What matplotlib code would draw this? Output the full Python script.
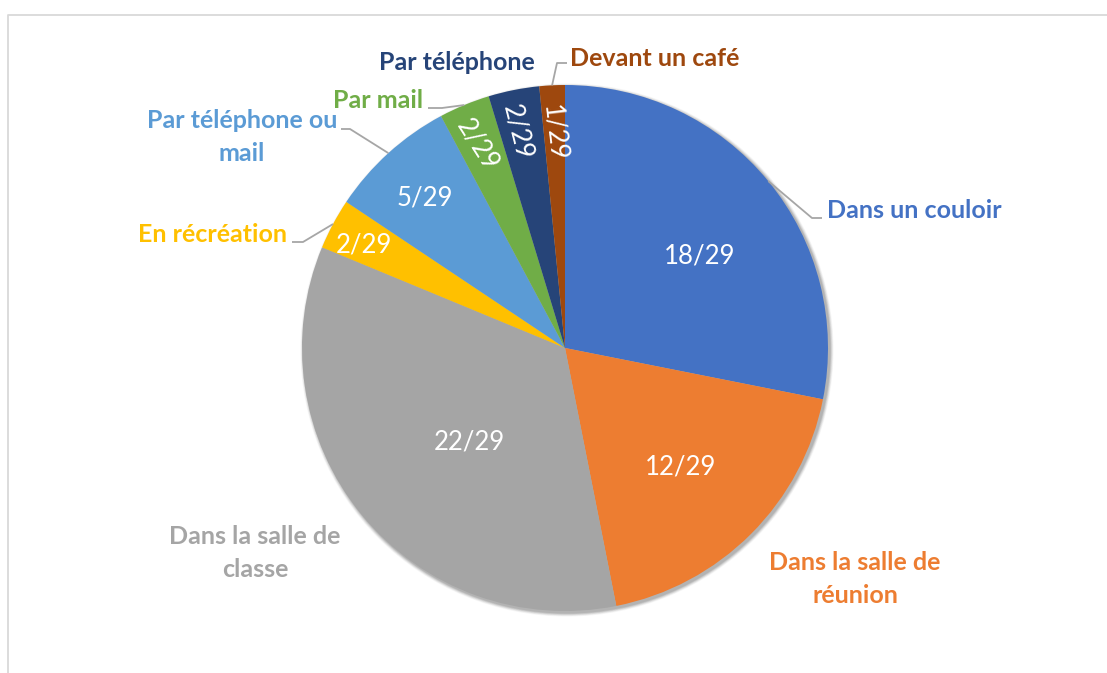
import numpy as np
import matplotlib
matplotlib.use("Agg")
import matplotlib.pyplot as plt
from matplotlib.patches import Circle

# ---- data ----
categories = ["Dans un couloir", "Dans la salle de\nréunion", "Dans la salle de\nclasse",
              "En récréation", "Par téléphone ou\nmail", "Par mail", "Par téléphone",
              "Devant un café"]
values = [18, 12, 22, 2, 5, 2, 2, 1]
value_labels = ["18/29", "12/29", "22/29", "2/29", "5/29", "2/29", "2/29", "1/29"]
colors = ["#4472C4", "#ED7D31", "#A5A5A5", "#FFC000", "#5B9BD5", "#70AD47", "#264478", "#9E480E"]

# ---- layout (pixel space, y measured from top) ----
W, H = 1107, 673
cx, cy, R = 565, 348, 263
inner_dist = [0.62, 0.63, 0.51, 0.86, 0.78, 0.84, 0.84, 0.82]
inner_angle_shift = [-5, -1, 5, 0.9, 0.8, 0.9, 1.3, 0.2]
rot_extra = [0, 0, 0, 0, 0, 10, 3, 4]
rotate_inner = [False, False, False, False, False, True, True, True]
# outer label: (x, y, ha) ; elbow point for leader line (or None)
outer_pos = [(827, 211, "left"), (855, 579, "center"), (255, 553, "center"),
             (287, 235, "right"), (242, 137, "center"), (378, 100, "center"),
             (457, 62, "center"), (655, 58, "center")]
elbows = [((812, 218), (822, 218)), None, None,
          ((303, 242), (292, 242)), ((350, 129), (341, 129)),
          ((442, 108), (428, 108)), None, ((557, 63), (567, 63))]

def py(y):
    return H - y

fig = plt.figure(figsize=(W / 100, H / 100), dpi=100)
ax = fig.add_axes([0, 0, 1, 1])
ax.set_xlim(0, W)
ax.set_ylim(0, H)
ax.set_aspect("equal")
ax.axis("off")

# chart border (partially visible)
ax.plot([7.5, 7.5, W + 5], [-5, py(14.5), py(14.5)], color="#D9D9D9", lw=1.3, zorder=1)

# soft shadow
for k, a in zip(range(6, 0, -1), [0.03, 0.04, 0.05, 0.06, 0.07, 0.08]):
    ax.add_patch(Circle((cx + 2, py(cy) - 2), R + k * 0.6, color="black", alpha=a, lw=0, zorder=2))

wedges, _ = ax.pie(values, colors=colors, startangle=90, counterclock=False,
                   center=(cx, py(cy)), radius=R, frame=True,
                   wedgeprops=dict(linewidth=0), normalize=True)
for w in wedges:
    w.set_zorder(3)
ax.set_xlim(0, W)
ax.set_ylim(0, H)
ax.axis("off")

font = "Lato"
for i, w in enumerate(wedges):
    mid = 0.5 * (w.theta1 + w.theta2)
    a_in = np.deg2rad(mid + inner_angle_shift[i])
    tx = cx + inner_dist[i] * R * np.cos(a_in)
    ty = py(cy) + inner_dist[i] * R * np.sin(a_in)
    rot = (mid - 180 + rot_extra[i]) if rotate_inner[i] else 0
    ax.text(tx, ty, value_labels[i], color="white", fontsize=18.5, family=font,
            ha="center", va="center", rotation=rot, rotation_mode="anchor", zorder=5)

    x, y, ha = outer_pos[i]
    ax.text(x, py(y), categories[i], color=colors[i], fontsize=18, fontweight="bold",
            family=font, ha=ha, va="center", multialignment="center", linespacing=1.5, zorder=5)

    if elbows[i] is not None:
        a = np.deg2rad(mid)
        ex = cx + R * np.cos(a)
        ey = py(cy) + R * np.sin(a)
        (bx, by), (lx, ly) = elbows[i]
        ax.plot([ex, bx, lx], [ey, py(by), py(ly)], color="#A6A6A6", lw=1.3,
                solid_capstyle="butt", zorder=4)

fig.savefig("out.png", dpi=100)
